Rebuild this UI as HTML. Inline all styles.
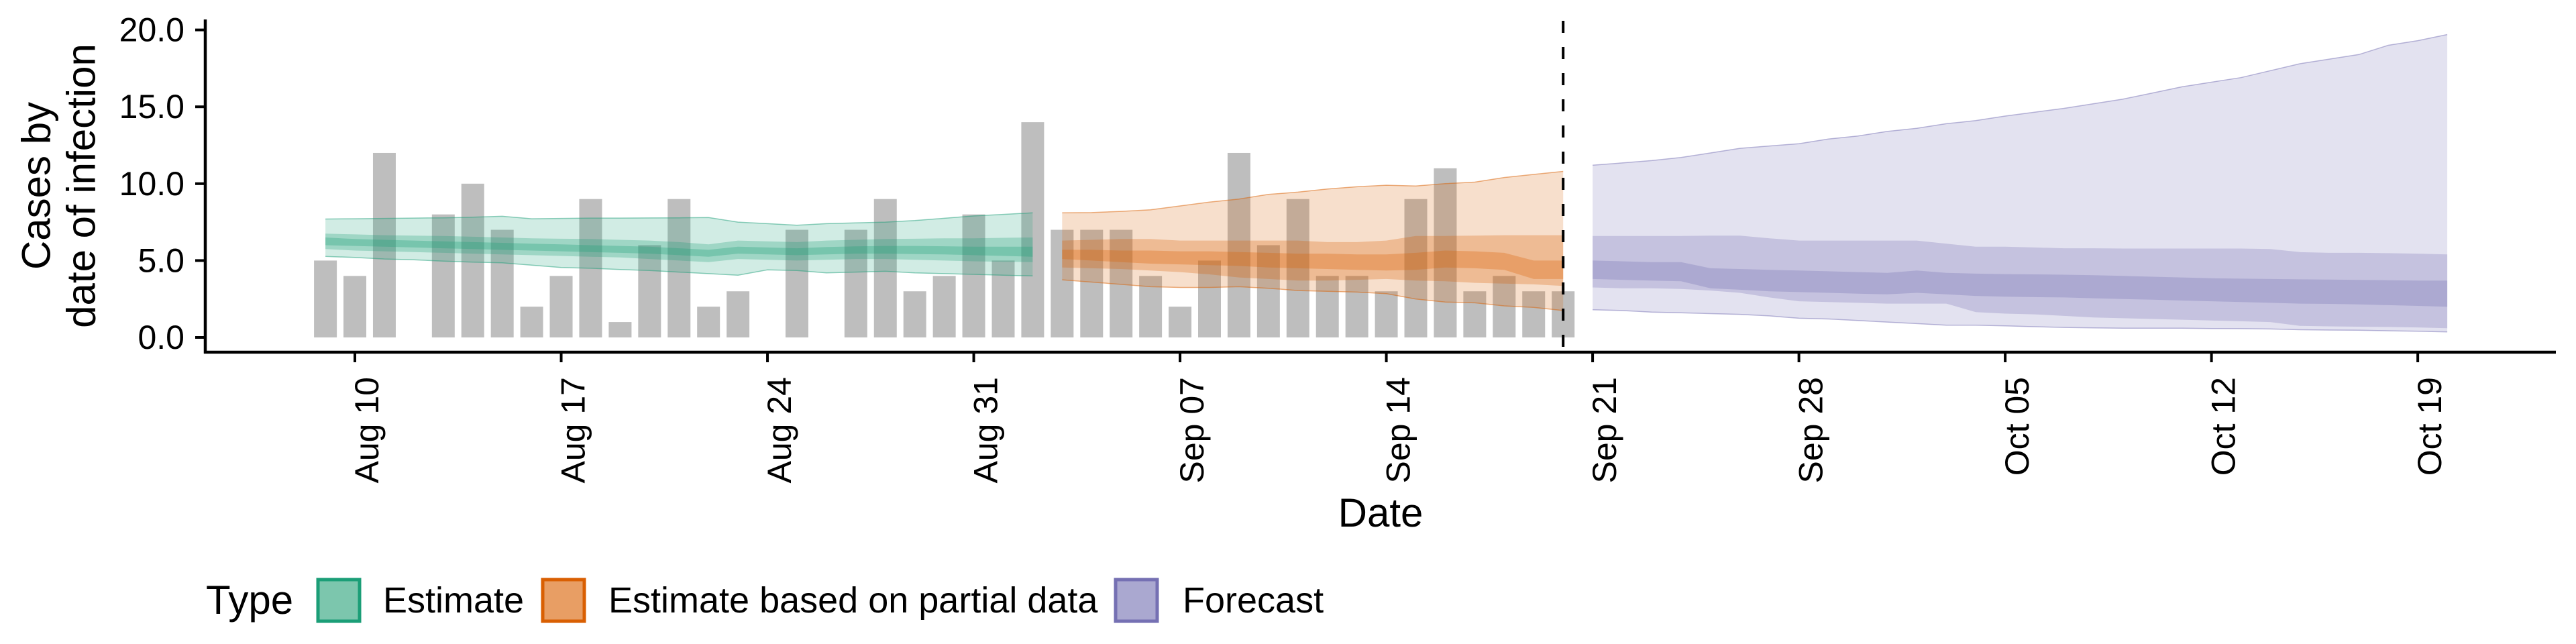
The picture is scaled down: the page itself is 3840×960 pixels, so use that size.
<!DOCTYPE html>
<html><head><meta charset="utf-8"><style>
html,body{margin:0;padding:0;background:#fff;}
svg{display:block;font-family:"Liberation Sans",Arial,sans-serif;}
</style></head><body>
<svg id="chart" width="3840" height="960" viewBox="0 0 3840 960" xmlns="http://www.w3.org/2000/svg">
<g id="bars"></g>
<g id="ribbons"></g>
<g id="axes"></g>
<text x="54" y="277" transform="rotate(-90 54 277)" text-anchor="middle" dominant-baseline="central" font-size="60">Cases by</text>
<text x="121" y="277" transform="rotate(-90 121 277)" text-anchor="middle" dominant-baseline="central" font-size="60">date of infection</text>
<text x="2058" y="785" text-anchor="middle" font-size="60">Date</text>
<g>
<text x="307" y="915" font-size="60">Type</text>
<g>
<rect x="474" y="864" width="62" height="62" fill="#7cc6ad" stroke="#1b9e77" stroke-width="5"/>
<text x="571" y="913" font-size="54">Estimate</text></g>
<g>
<rect x="809" y="864" width="62" height="62" fill="#e89e64" stroke="#d95f02" stroke-width="5"/>
<text x="907" y="913" font-size="54">Estimate based on partial data</text></g>
<g>
<rect x="1663" y="864" width="62" height="62" fill="#aaa8d0" stroke="#7570b3" stroke-width="5"/>
<text x="1763" y="913" font-size="54">Forecast</text></g>
</g>
</svg>
<script>
// data (day index 0 = Aug 09)
const barValues = [5,4,12,0,8,10,7,2,4,9,1,6,9,2,3,0,7,0,7,9,3,4,8,5,14,7,7,7,4,2,5,12,6,9,4,4,3,9,11,3,4,3,3];
const yTicks = [0,5,10,15,20];
const yTickLabels = ["0.0","5.0","10.0","15.0","20.0"];
const xTickDays = [1,8,15,22,29,36,43,50,57,64,71];
const xTickLabels = ["Aug 10","Aug 17","Aug 24","Aug 31","Sep 07","Sep 14","Sep 21","Sep 28","Oct 05","Oct 12","Oct 19"];
const forecastStartDay = 42;
// Estimate: days 0..24
const estStart = 0;
const estU90 = [7.7,7.72,7.74,7.76,7.78,7.82,7.88,7.72,7.74,7.76,7.76,7.77,7.78,7.8,7.5,7.4,7.3,7.4,7.45,7.5,7.6,7.75,7.9,8.0,8.1];
const estL90 = [5.27,5.2,5.1,5.05,4.96,4.9,4.85,4.7,4.55,4.5,4.42,4.35,4.25,4.15,4.05,4.4,4.35,4.2,4.25,4.3,4.2,4.15,4.1,4.05,4.0];
const estU50 = [6.75,6.7,6.65,6.62,6.6,6.55,6.5,6.45,6.42,6.4,6.35,6.3,6.2,6.05,6.3,6.25,6.2,6.3,6.35,6.4,6.42,6.45,6.45,6.48,6.5];
const estL50 = [5.75,5.65,5.6,5.55,5.5,5.45,5.4,5.35,5.3,5.25,5.2,5.1,5.0,4.9,5.1,5.05,5.0,5.05,5.1,5.1,5.05,5.0,4.95,4.92,4.9];
const estU20 = [6.5,6.4,6.35,6.3,6.25,6.2,6.15,6.1,6.05,6.0,5.95,5.9,5.8,5.7,5.9,5.85,5.8,5.88,5.92,5.95,5.95,5.93,5.9,5.9,5.9];
const estL20 = [6.0,5.95,5.9,5.85,5.8,5.75,5.7,5.65,5.6,5.55,5.5,5.45,5.35,5.25,5.45,5.4,5.35,5.4,5.45,5.45,5.42,5.4,5.35,5.3,5.25];
// Partial: days 25..42
const parStart = 25;
const parU90 = [8.1,8.12,8.2,8.3,8.55,8.8,9.0,9.3,9.45,9.65,9.8,9.9,9.85,10.0,10.1,10.4,10.6,10.8];
const parL90 = [3.75,3.6,3.45,3.3,3.25,3.25,3.3,3.2,3.05,3.0,2.95,2.85,2.5,2.3,2.25,2.05,1.95,1.75];
const parU50 = [6.3,6.35,6.4,6.4,6.3,6.3,6.3,6.3,6.3,6.2,6.2,6.3,6.6,6.6,6.62,6.65,6.65,6.65];
const parL50 = [4.55,4.5,4.45,4.35,4.25,4.1,3.9,3.8,3.7,3.7,3.75,3.8,3.7,3.65,3.55,3.5,3.45,3.35];
const parU20 = [5.7,5.7,5.65,5.65,5.6,5.6,5.55,5.5,5.45,5.45,5.4,5.4,5.5,5.65,5.6,5.5,5.0,5.0];
const parL20 = [5.1,5.0,4.9,4.8,4.75,4.7,4.65,4.55,4.5,4.45,4.4,4.35,4.4,4.55,4.5,4.4,3.8,3.8];
// Forecast: days 43..72
const fcStart = 43;
const fcU90 = [11.2,11.35,11.5,11.7,12.0,12.3,12.45,12.6,12.9,13.1,13.4,13.6,13.9,14.1,14.4,14.65,14.9,15.2,15.5,15.9,16.3,16.6,16.9,17.35,17.8,18.1,18.4,19.0,19.3,19.7];
const fcL90 = [1.8,1.75,1.65,1.6,1.55,1.5,1.4,1.25,1.2,1.1,1.0,0.9,0.8,0.8,0.75,0.7,0.65,0.62,0.6,0.6,0.6,0.58,0.57,0.55,0.5,0.48,0.47,0.43,0.4,0.36];
const fcU50 = [6.6,6.6,6.6,6.6,6.62,6.62,6.45,6.3,6.3,6.3,6.3,6.3,6.1,5.9,5.9,5.85,5.8,5.8,5.78,5.78,5.78,5.78,5.78,5.75,5.55,5.5,5.5,5.48,5.45,5.4];
const fcL50 = [3.25,3.2,3.2,3.15,3.05,2.9,2.6,2.35,2.3,2.25,2.2,2.2,2.2,1.65,1.55,1.5,1.4,1.3,1.25,1.2,1.15,1.1,1.05,1.0,0.75,0.72,0.7,0.68,0.65,0.6];
const fcU20 = [5.0,4.95,4.9,4.9,4.5,4.45,4.4,4.35,4.3,4.25,4.2,4.35,4.2,4.15,4.12,4.1,4.08,4.05,4.0,3.95,3.9,3.85,3.82,3.8,3.78,3.76,3.74,3.72,3.7,3.7];
const fcL20 = [3.8,3.75,3.7,3.65,3.2,3.1,3.0,2.95,2.9,2.85,2.8,2.9,2.8,2.7,2.65,2.62,2.6,2.55,2.5,2.45,2.4,2.35,2.3,2.25,2.2,2.18,2.15,2.1,2.05,2.0];

const NS = "http://www.w3.org/2000/svg";
const DAY = 43.93;
function xScale(d){ return 485.1 + d*DAY; }
function yScale(v){ return 503 - v*22.92; }
function mk(tag, attrs, parent){
  const e = document.createElementNS(NS, tag);
  for (const k in attrs) e.setAttribute(k, attrs[k]);
  parent.appendChild(e); return e;
}
const barsG = document.getElementById('bars');
barValues.forEach((v,i)=>{
  if (v<=0) return;
  const r = mk('rect', {x: xScale(i)-17, y: yScale(v), width: 34, height: yScale(0)-yScale(v), fill:'#bebebe'}, barsG);
  
  
});
const ribG = document.getElementById('ribbons');
function ribbon(start, up, lo, fill, op, name, stroke){
  let pts = [];
  up.forEach((v,i)=>pts.push(xScale(start+i).toFixed(1)+','+yScale(v).toFixed(1)));
  for (let i=lo.length-1;i>=0;i--) pts.push(xScale(start+i).toFixed(1)+','+yScale(lo[i]).toFixed(1));
  const p = mk('polygon', {points: pts.join(' '), fill: fill, 'fill-opacity': op}, ribG);
  
  
  if (stroke){
    [up, lo].forEach(arr=>{
      const l = mk('polyline', {points: arr.map((v,i)=>xScale(start+i).toFixed(1)+','+yScale(v).toFixed(1)).join(' '), fill:'none', stroke: stroke, 'stroke-width': 1.5, 'stroke-opacity': 0.5}, ribG);
      
      
    });
  }
}
const series = [
  [estStart, estU90, estL90, estU50, estL50, estU20, estL20, '#1b9e77', 'estimate'],
  [parStart, parU90, parL90, parU50, parL50, parU20, parL20, '#d95f02', 'partial'],
  [fcStart, fcU90, fcL90, fcU50, fcL50, fcU20, fcL20, '#7570b3', 'forecast']
];
series.forEach(s=>{
  ribbon(s[0], s[1], s[2], s[7], 0.2, s[8]+'-ribbon-90', s[7]);
  ribbon(s[0], s[3], s[4], s[7], 0.28, s[8]+'-ribbon-50');
  ribbon(s[0], s[5], s[6], s[7], 0.3, s[8]+'-ribbon-20');
});
const ax = document.getElementById('axes');
const yAxis = mk('line', {x1:306, y1:29, x2:306, y2:527, stroke:'#000', 'stroke-width':4.5}, ax);


const xAxis = mk('line', {x1:304, y1:525, x2:3810, y2:525, stroke:'#000', 'stroke-width':4.5}, ax);


yTicks.forEach((v,i)=>{
  const y = yScale(v);
  const t = mk('line', {x1:291, y1:y, x2:306, y2:y, stroke:'#000', 'stroke-width':4}, ax);
  
  
  const l = mk('text', {x:275, y:y, 'text-anchor':'end', 'dominant-baseline':'central', 'font-size':50}, ax);
  l.textContent = yTickLabels[i];
  
  
});
xTickDays.forEach((d,i)=>{
  const x = xScale(d);
  const t = mk('line', {x1:x, y1:525, x2:x, y2:540, stroke:'#000', 'stroke-width':4}, ax);
  
  
  const tx = x + 35, ty = 562;
  const l = mk('text', {x:tx, y:ty, 'text-anchor':'end', transform:'rotate(-90 '+tx+' '+ty+')', 'font-size':50}, ax);
  l.textContent = xTickLabels[i];
  
  
});
const fx = xScale(forecastStartDay);
const dash = mk('line', {x1:fx, y1:31, x2:fx, y2:525, stroke:'#000', 'stroke-width':4, 'stroke-dasharray':'18 21'}, ax);


</script>
</body></html>
